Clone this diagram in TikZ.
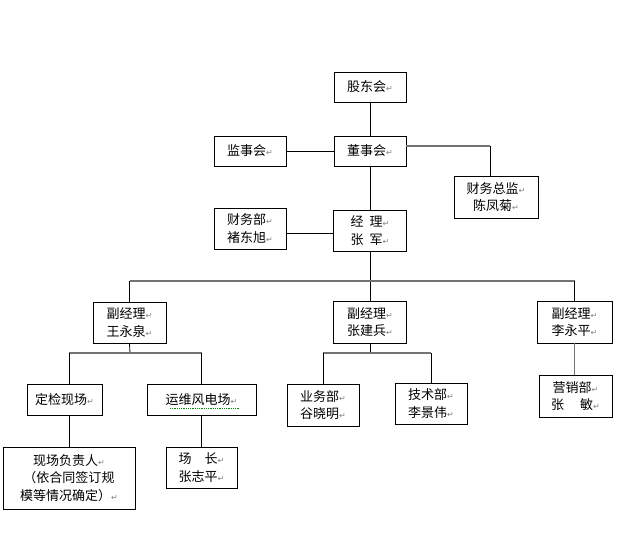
\documentclass[tikz,border=0pt]{standalone}
\usepackage{fontspec}
\setmainfont{Noto Sans CJK SC}
\newfontfamily\symfont{DejaVu Sans}
\usepackage{tikz}
\usetikzlibrary{positioning}
\newcommand{\retmark}{{\symfont\fontsize{8}{8}\selectfont\textcolor{gray}{↵}}}

\begin{document}
\begin{tikzpicture}[x=1pt,y=1pt,yscale=-1,xscale=1]
  \useasboundingbox (0,0) rectangle (623,552);
  \tikzstyle{box} = [draw,line width=0.8pt,inner sep=0pt,align=center,font=\fontsize{13}{17.5}\selectfont]
  \tikzstyle{link} = [line width=0.8pt]
  \tikzstyle{glink} = [line width=1.6pt,black!55]
  %Draw the top boxes
  \node[box,minimum width=72pt,minimum height=30pt] (gd) at (370,87) {股东会\retmark};
  \node[box,minimum width=72pt,minimum height=30pt] (dsh) at (370,151) {董事会\retmark};
  \node[box,minimum width=72pt,minimum height=30pt] (jsh) at (250,151) {监事会\retmark};
  \node[box,minimum width=84pt,minimum height=42pt] (cwzj) at (496,197) {财务总监\retmark\\陈凤菊\retmark};
  \node[box,minimum width=72pt,minimum height=41pt] (cwb) at (250,228.5) {财务部\retmark\\褚东旭\retmark};
  \node[box,minimum width=73pt,minimum height=41pt] (jl) at (370,230.5) {经\ \ 理\retmark\\张\ \ 军\retmark};
  %Draw the vice managers
  \node[box,minimum width=73pt,minimum height=41pt] (fj1) at (129.5,322.5) {副经理\retmark\\王永泉\retmark};
  \node[box,minimum width=73pt,minimum height=42pt] (fj2) at (370,322) {副经理\retmark\\张建兵\retmark};
  \node[box,minimum width=75pt,minimum height=42pt] (fj3) at (574.5,322) {副经理\retmark\\李永平\retmark};
  %Draw the departments
  \node[box,minimum width=75pt,minimum height=31pt] (djxc) at (64.5,399.5) {定检现场\retmark};
  \node[box,minimum width=109pt,minimum height=31pt] (ywfd) at (201.5,399.5) {运维风电场\retmark};
  \node[box,minimum width=132pt,minimum height=62pt] (xcfz) at (69,478) {现场负责人\retmark\\（依合同签订规\\模等情况确定）\retmark};
  \node[box,minimum width=71pt,minimum height=41pt] (cz) at (201.5,467.5) {场\quad 长\retmark\\张志平\retmark};
  \node[box,minimum width=72pt,minimum height=42pt] (ywb) at (323,405) {业务部\retmark\\谷晓明\retmark};
  \node[box,minimum width=72pt,minimum height=41pt] (jsb) at (431,403.5) {技术部\retmark\\李景伟\retmark};
  \node[box,minimum width=73pt,minimum height=42pt] (yxb) at (575.5,396) {营销部\retmark\\张\quad\ 敏\retmark};
  %spelling underline
  \draw[green!55!black,densely dotted,line width=0.8pt] (170,408) -- (240,408);
  %Draw the links on top
  \draw[link] (gd.south) -- (dsh.north);
  \draw[link] (jsh.east) -- (dsh.west);
  \coordinate (cwzjtop) at ([xshift=-6pt]cwzj.north);
  \draw[glink] ([yshift=-5pt]dsh.east) -- ([yshift=-5pt]dsh.east -| cwzjtop);
  \draw[link] ([yshift=-5pt]dsh.east -| cwzjtop) -- (cwzjtop);
  \draw[link] (dsh.south) -- (jl.north);
  \draw[link] ([yshift=5pt]cwb.east) -- ([yshift=5pt]cwb.east -| jl.west);
  %Draw the main bus
  \coordinate (bus) at (370,281);
  \draw[link] (jl.south) -- (fj2.north);
  \draw[glink] (fj1.north |- bus) -- (fj3.north |- bus);
  \draw[link] (fj1.north) -- (fj1.north |- bus);
  \draw[link] (fj3.north) -- (fj3.north |- bus);
  %Draw the branches below
  \coordinate (b1) at (130,353);
  \coordinate (b2) at (370,353);
  \draw[link] (fj1.south) -- (b1);
  \draw[glink] (xcfz.north |- b1) -- (ywfd.north |- b1);
  \draw[link] (xcfz.north |- b1) -- (xcfz.north |- djxc.north);
  \draw[link] (ywfd.north |- b1) -- (ywfd.north);
  \draw[link] (xcfz.north) -- (xcfz.north |- djxc.south);
  \draw[link] (ywfd.south) -- (cz.north);
  \draw[link] (fj2.south) -- (b2);
  \draw[glink] (ywb.north |- b2) -- (jsb.north |- b2);
  \draw[link] (ywb.north |- b2) -- (ywb.north);
  \draw[link] (jsb.north |- b2) -- (jsb.north);
  \draw[glink] (fj3.south) -- (fj3.south |- yxb.north);
\end{tikzpicture}
\end{document}
